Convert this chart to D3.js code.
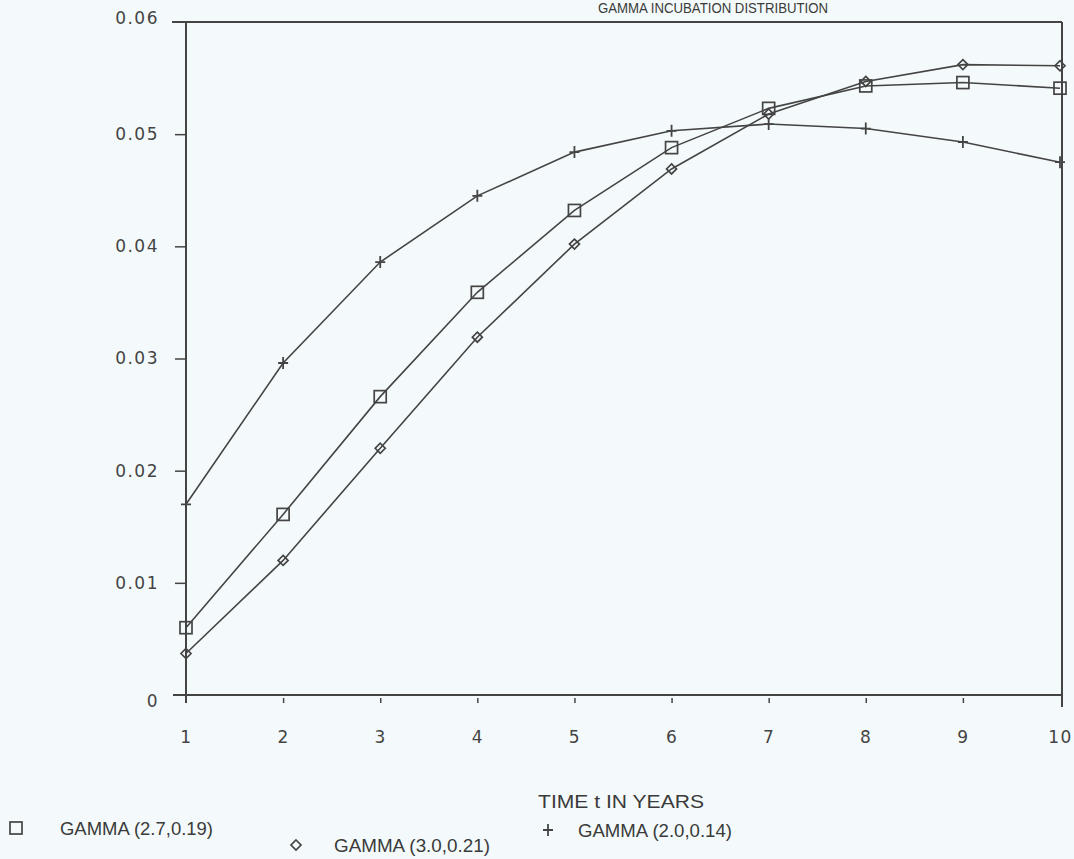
<!DOCTYPE html>
<html lang="en">
<head>
<meta charset="UTF-8">
<title>Gamma incubation distribution</title>
<script src="https://d3js.org/d3.v7.min.js"></script>
<style>
  html, body { margin: 0; padding: 0; background: #f4fafb; }
  svg { display: block; }
  .tick text { font-family: "DejaVu Sans", sans-serif; font-size: 17px; letter-spacing: 1.5px; fill: #444; }
  .lbl { font-family: "Liberation Sans", sans-serif; fill: #3a3a3a; }
</style>
</head>
<body>
<div id="chart"></div>
<script>
// values
const years = [1, 2, 3, 4, 5, 6, 7, 8, 9, 10];
const gamma27 = [0.0060, 0.0161, 0.0266, 0.0359, 0.0432, 0.0488, 0.0523, 0.0543, 0.0546, 0.0541];
const gamma30 = [0.0037, 0.0120, 0.0220, 0.0319, 0.0402, 0.0469, 0.0518, 0.0547, 0.0562, 0.0561];
const gamma20 = [0.0170, 0.0296, 0.0386, 0.0445, 0.0484, 0.0503, 0.0509, 0.0505, 0.0493, 0.0475];
const yTicks = [0, 0.01, 0.02, 0.03, 0.04, 0.05, 0.06];
const yTickLabels = ["0", "0.01", "0.02", "0.03", "0.04", "0.05", "0.06"];

const width = 1074, height = 859;
const ink = "#444";

const x = d3.scaleLinear().domain([1, 10]).range([186, 1060]);
const y = d3.scaleLinear().domain([0, 0.06]).range([695, 22]);

const svg = d3.select("#chart").append("svg")
    .attr("width", width)
    .attr("height", height);

svg.append("rect").attr("width", width).attr("height", height).attr("fill", "#f4fafb");

// title
svg.append("text").attr("class", "lbl")
    .attr("x", 598).attr("y", 13)
    .attr("font-size", 14)
    .attr("textLength", 230).attr("lengthAdjust", "spacingAndGlyphs")
    .text("GAMMA INCUBATION DISTRIBUTION");

// y axis
const yAxis = svg.append("g")
    .attr("transform", `translate(${x(1)},0)`)
    .call(d3.axisLeft(y).tickValues(yTicks).tickSize(11).tickPadding(16)
        .tickFormat((d, i) => yTickLabels[i]));
yAxis.select(".domain").remove();
yAxis.selectAll(".tick line").attr("stroke", ink).attr("stroke-width", 1.5);
yAxis.selectAll(".tick").filter(d => d === 0 || d === 0.06).select("line").remove();
yAxis.selectAll(".tick").filter(d => d === 0).select("text").attr("dy", "0.65em");
yAxis.selectAll(".tick").filter(d => d === 0.06).select("text").attr("dy", "0.1em");

// x axis
const xAxis = svg.append("g")
    .attr("transform", `translate(0,${y(0)})`)
    .call(d3.axisBottom(x).tickValues(years).tickSize(8).tickPadding(28));
xAxis.select(".domain").remove();
xAxis.selectAll(".tick line").attr("stroke", ink).attr("stroke-width", 1.5).attr("y1", 3);
xAxis.selectAll(".tick").filter(d => d === 1 || d === 10).select("line").remove();

// frame
const frame = svg.append("g").attr("stroke", ink).attr("stroke-width", 2).attr("fill", "none");
frame.append("line").attr("x1", x(1) - 14).attr("x2", 1062).attr("y1", y(0.06)).attr("y2", y(0.06));
frame.append("line").attr("x1", x(1) - 13).attr("x2", 1062).attr("y1", y(0)).attr("y2", y(0));
frame.append("line").attr("x1", x(1)).attr("x2", x(1)).attr("y1", y(0.06)).attr("y2", y(0) + 8);
frame.append("line").attr("x1", 1062).attr("x2", 1062).attr("y1", y(0.06)).attr("y2", y(0) + 12);

// series
const series = [
    { name: "GAMMA (2.7,0.19)", values: gamma27, marker: "square" },
    { name: "GAMMA (3.0,0.21)", values: gamma30, marker: "diamond" },
    { name: "GAMMA (2.0,0.14)", values: gamma20, marker: "plus" }
];

const line = d3.line().x((d, i) => x(years[i])).y(d => y(d));

function drawMarker(g, type, cx, cy) {
    if (type === "square") {
        g.append("rect").attr("x", cx - 6).attr("y", cy - 6).attr("width", 12).attr("height", 12)
            .attr("fill", "none").attr("stroke", ink).attr("stroke-width", 1.7);
    } else if (type === "diamond") {
        g.append("path").attr("d", `M${cx},${cy - 5}L${cx + 5},${cy}L${cx},${cy + 5}L${cx - 5},${cy}Z`)
            .attr("fill", "none").attr("stroke", ink).attr("stroke-width", 1.7);
    } else {
        g.append("path").attr("d", `M${cx - 5},${cy}H${cx + 5}M${cx},${cy - 6}V${cy + 6}`)
            .attr("fill", "none").attr("stroke", ink).attr("stroke-width", 1.8);
    }
}

series.forEach(s => {
    const g = svg.append("g");
    g.append("path").datum(s.values)
        .attr("d", line)
        .attr("fill", "none")
        .attr("stroke", ink)
        .attr("stroke-width", 1.6);
    s.values.forEach((v, i) => drawMarker(g, s.marker, x(years[i]), y(v)));
});

// x axis title
svg.append("text").attr("class", "lbl")
    .attr("x", 538).attr("y", 808)
    .attr("font-size", 18)
    .attr("textLength", 166).attr("lengthAdjust", "spacingAndGlyphs")
    .text("TIME t IN YEARS");

// legend
const legendPos = [
    { mx: 16, tx: 60, y: 828, w: 153 },
    { mx: 296, tx: 334, y: 845, w: 156 },
    { mx: 548, tx: 578, y: 830, w: 154 }
];
series.forEach((s, i) => {
    const p = legendPos[i];
    const g = svg.append("g");
    drawMarker(g, s.marker, p.mx, p.y);
    g.append("text").attr("class", "lbl")
        .attr("x", p.tx).attr("y", p.y + 7)
        .attr("font-size", 19)
        .attr("textLength", p.w).attr("lengthAdjust", "spacingAndGlyphs")
        .text(s.name);
});
</script>
</body>
</html>
